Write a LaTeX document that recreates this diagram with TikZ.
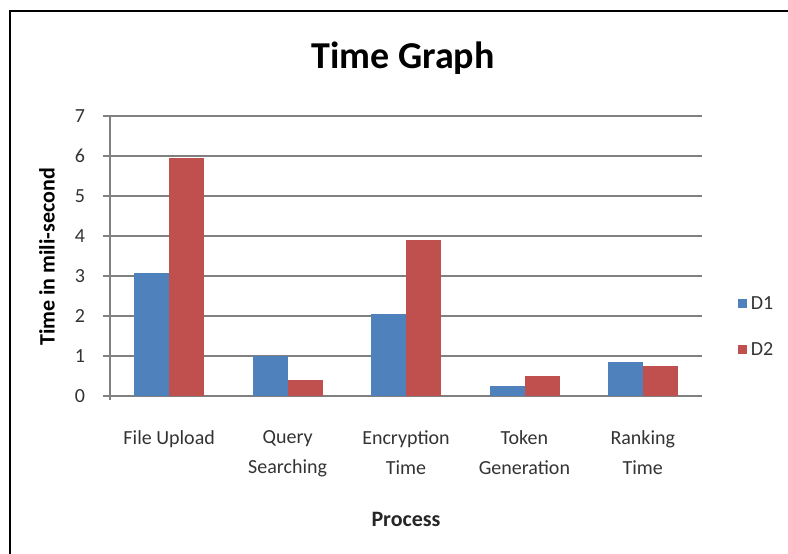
\documentclass[tikz,border=0pt]{standalone}
\usepackage{fontspec}
\setmainfont{Carlito}
\usepackage{xcolor}
\usepackage{tikz}
\usetikzlibrary{positioning}
\definecolor{dOne}{HTML}{4F81BD}
\definecolor{dTwo}{HTML}{C0504D}
\definecolor{gridgray}{HTML}{808080}
\tikzstyle{gridline} = [draw=gridgray, line width=1.7pt]
\tikzstyle{barone} = [rectangle, fill=dOne, minimum width=35pt, inner sep=0pt, anchor=south west]
\tikzstyle{bartwo} = [rectangle, fill=dTwo, minimum width=35pt, inner sep=0pt, anchor=south west]
\tikzstyle{ticklabel} = [text=black!80, font=\fontsize{20}{22}\selectfont]
\tikzstyle{catlabel} = [text=black!80, align=center, anchor=north, font=\fontsize{20}{30}\selectfont]
\tikzstyle{legendkey} = [rectangle, minimum size=9pt, inner sep=0pt]

\begin{document}
\begin{tikzpicture}[x=1pt, y=-1pt]
    \useasboundingbox (0,0) rectangle (788,554);
    % Frame
    \draw[line width=2pt] (10,554) -- (10,11) -- (788,11);

    % Title
    \node[font=\fontsize{38}{40}\selectfont\bfseries] (title) at (403,58) {Time Graph};

    % Grid
    \draw[gridline] (103,116) -- (702,116);
    \draw[gridline] (103,156) -- (702,156);
    \draw[gridline] (103,196) -- (702,196);
    \draw[gridline] (103,236) -- (702,236);
    \draw[gridline] (103,276) -- (702,276);
    \draw[gridline] (103,316) -- (702,316);
    \draw[gridline] (103,356) -- (702,356);
    \draw[gridline] (103,396) -- (702,396);
    \draw[gridline] (110,116) -- (110,400);

    % Y tick labels
    \node[ticklabel] (yseven) at (80,116) {7};
    \node[ticklabel] (ysix) at (80,156) {6};
    \node[ticklabel] (yfive) at (80,196) {5};
    \node[ticklabel] (yfour) at (80,236) {4};
    \node[ticklabel] (ythree) at (80,276) {3};
    \node[ticklabel] (ytwo) at (80,316) {2};
    \node[ticklabel] (yone) at (80,356) {1};
    \node[ticklabel] (yzero) at (80,396) {0};

    % Bars
    \node[barone, minimum height=123pt] (uploadone) at (134.2,396) {};
    \node[bartwo, minimum height=238pt] (uploadtwo) at (169.2,396) {};
    \node[barone, minimum height=40pt] (queryone) at (252.6,396) {};
    \node[bartwo, minimum height=16pt] (querytwo) at (287.6,396) {};
    \node[barone, minimum height=82pt] (encone) at (371,396) {};
    \node[bartwo, minimum height=156pt] (enctwo) at (406,396) {};
    \node[barone, minimum height=10pt] (tokenone) at (489.4,396) {};
    \node[bartwo, minimum height=20pt] (tokentwo) at (524.4,396) {};
    \node[barone, minimum height=34pt] (rankone) at (607.8,396) {};
    \node[bartwo, minimum height=30pt] (ranktwo) at (642.8,396) {};

    % Category labels
    \node[catlabel] (upload) at (169.2,427) {File Upload};
    \node[catlabel] (query) at (287.6,427) {Query\\Searching};
    \node[catlabel] (enc) at (406,427) {Encryption\\Time};
    \node[catlabel] (token) at (524.4,427) {Token\\Generation};
    \node[catlabel] (rank) at (642.8,427) {Ranking\\Time};

    % Axis titles
    \node[text=black!85, font=\fontsize{22}{24}\selectfont\bfseries] (xtitle) at (406,519) {Process};
    \node[rotate=90, font=\fontsize{22}{24}\selectfont\bfseries] (ytitle) at (47,257) {Time in mili-second};

    % Legend
    \node[legendkey, fill=dOne] (keyone) at (742,303) {};
    \node[legendkey, fill=dTwo] (keytwo) at (742,349) {};
    \node[text=black!80, inner sep=1pt, right=3pt of keyone, font=\fontsize{20}{22}\selectfont] (labelone) {D1};
    \node[text=black!80, inner sep=1pt, right=3pt of keytwo, font=\fontsize{20}{22}\selectfont] (labeltwo) {D2};
\end{tikzpicture}
\end{document}
